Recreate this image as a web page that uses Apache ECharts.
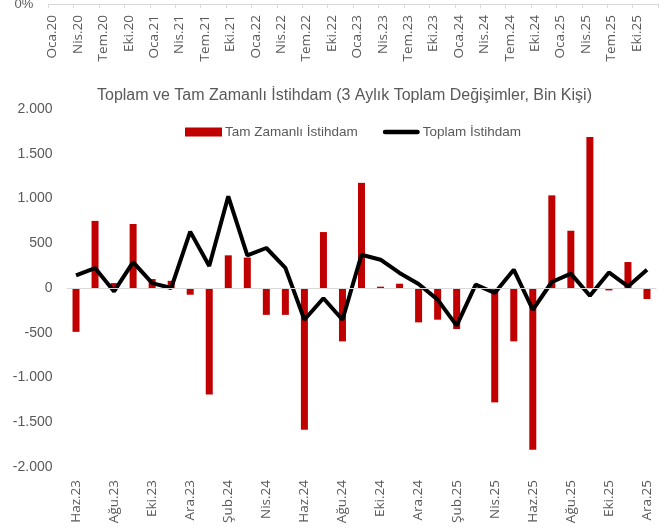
<!DOCTYPE html>
<html>
<head>
<meta charset="utf-8">
<script src="https://cdn.jsdelivr.net/npm/echarts@6/dist/echarts.min.js"></script>
<style>
    html, body { margin: 0; padding: 0; background: #fff; }
    #container { width: 665px; height: 531px; }
</style>
</head>
<body>
<div id="container"></div>
<script type="text/javascript">
    // ay kısaltmaları
    var ayAdlari = ['Oca', 'Şub', 'Mar', 'Nis', 'May', 'Haz', 'Tem', 'Ağu', 'Eyl', 'Eki', 'Kas', 'Ara'];
    var ustYillar = ['20', '21', '22', '23', '24', '25'];

    // ana grafik kategorileri (Haz.23 - Ara.25)
    var kategoriler = ['Haz.23', 'Tem.23', 'Ağu.23', 'Eyl.23', 'Eki.23', 'Kas.23', 'Ara.23',
        'Oca.24', 'Şub.24', 'Mar.24', 'Nis.24', 'May.24', 'Haz.24', 'Tem.24', 'Ağu.24', 'Eyl.24',
        'Eki.24', 'Kas.24', 'Ara.24', 'Oca.25', 'Şub.25', 'Mar.25', 'Nis.25', 'May.25', 'Haz.25',
        'Tem.25', 'Ağu.25', 'Eyl.25', 'Eki.25', 'Kas.25', 'Ara.25'];

    var tamZamanli = [-490, 750, 55, 715, 100, 80, -75, -1190, 365, 340, -300, -300, -1585, 625,
        -596, 1175, 15, 48, -384, -354, -458, 0, -1278, -596, -1807, 1035, 640, 1687, -27, 290, -123];

    var toplamIstihdam = [140, 223, -38, 290, 55, 0, 630, 245, 1025, 365, 447, 225, -355, -115,
        -355, 372, 316, 168, 45, -130, -421, 37, -56, 205, -243, 67, 160, -86, 174, 18, 205];

    var yTicks = [-2000, -1500, -1000, -500, 0, 500, 1000, 1500, 2000];

    // üstte kesilmiş önceki grafiğin ekseni
    var ustKategoriler = [];
    ustYillar.forEach(function (y) {
        ayAdlari.forEach(function (a) {
            ustKategoriler.push(a + '.' + y);
        });
    });

    var gri = '#595959';
    var font = 'Liberation Sans';
    var eksenFont = 'Open Sans';

    function binlik(v) {
        var s = String(Math.abs(v)).replace(/\B(?=(\d{3})+(?!\d))/g, '.');
        return (v < 0 ? '-' : '') + s;
    }

    var myChart = echarts.init(document.getElementById('container'), null, {renderer: 'canvas'});

    var option = {
        backgroundColor: '#fff',
        animation: false,
        title: {
            text: 'Toplam ve Tam Zamanlı İstihdam (3 Aylık Toplam Değişimler, Bin Kişi)',
            left: 92,
            top: 83,
            textStyle: {
                color: gri,
                fontFamily: font,
                fontWeight: 'normal',
                fontSize: 16
            }
        },
        legend: {
            left: 180,
            top: 120,
            itemGap: 25,
            itemWidth: 37,
            itemHeight: 9,
            textStyle: {
                color: gri,
                fontFamily: font,
                fontSize: 13.5,
                padding: [0, 0, 0, -2]
            },
            data: [{
                name: 'Tam Zamanlı İstihdam',
                icon: 'rect'
            }, {
                name: 'Toplam İstihdam',
                icon: 'path://M2.5,0 H37.5 A2.5,2.5 0 0 1 37.5,5 H2.5 A2.5,2.5 0 0 1 2.5,0 Z'
            }]
        },
        grid: [{
            left: 66.5,
            right: 8.5,
            top: 109,
            bottom: 64,
            outerBoundsMode: 'none'
        }, {
            left: 48.3,
            right: 7,
            top: -20,
            height: 24,
            outerBoundsMode: 'none'
        }],
        xAxis: [{
            type: 'category',
            gridIndex: 0,
            data: kategoriler,
            boundaryGap: true,
            axisLine: {show: false},
            axisTick: {show: false},
            axisLabel: {
                interval: 1,
                rotate: 90,
                margin: 13,
                color: gri,
                fontFamily: eksenFont,
                fontSize: 13.5
            }
        }, {
            type: 'category',
            gridIndex: 1,
            data: ustKategoriler,
            boundaryGap: true,
            axisLine: {show: true, lineStyle: {color: '#d9d9d9', width: 1}},
            axisTick: {show: true, interval: 2, length: 4, lineStyle: {color: '#d9d9d9'}},
            axisLabel: {
                interval: 2,
                rotate: 90,
                margin: 11,
                color: gri,
                fontFamily: eksenFont,
                fontSize: 13.5
            }
        }],
        yAxis: [{
            type: 'value',
            gridIndex: 0,
            min: -2000,
            max: 2000,
            interval: 500,
            axisLine: {show: false},
            axisTick: {show: false},
            splitLine: {show: false},
            axisLabel: {
                margin: 14,
                color: gri,
                fontFamily: font,
                fontSize: 14,
                formatter: function (v) {
                    return yTicks.indexOf(v) >= 0 ? binlik(v) : '';
                }
            }
        }, {
            type: 'value',
            gridIndex: 1,
            min: 0,
            max: 1,
            interval: 1,
            axisLine: {show: false},
            axisTick: {show: false},
            splitLine: {show: false},
            axisLabel: {
                margin: 15,
                color: gri,
                fontFamily: font,
                fontSize: 13,
                formatter: function (v) {
                    return v === 0 ? '0%' : '';
                }
            }
        }],
        series: [{
            name: 'Tam Zamanlı İstihdam',
            type: 'bar',
            xAxisIndex: 0,
            yAxisIndex: 0,
            data: tamZamanli,
            barWidth: 7,
            itemStyle: {color: '#C00000'},
            markLine: {
                silent: true,
                symbol: 'none',
                label: {show: false},
                lineStyle: {color: '#d9d9d9', type: 'solid', width: 1},
                data: [{yAxis: 0}]
            },
            z: 2
        }, {
            name: 'Toplam İstihdam',
            type: 'line',
            xAxisIndex: 0,
            yAxisIndex: 0,
            data: toplamIstihdam,
            showSymbol: false,
            symbol: 'none',
            lineStyle: {color: '#000', width: 4},
            itemStyle: {color: '#000'},
            z: 3
        }, {
            type: 'line',
            xAxisIndex: 1,
            yAxisIndex: 1,
            data: [],
            silent: true
        }]
    };

    myChart.setOption(option);
</script>
</body>
</html>
